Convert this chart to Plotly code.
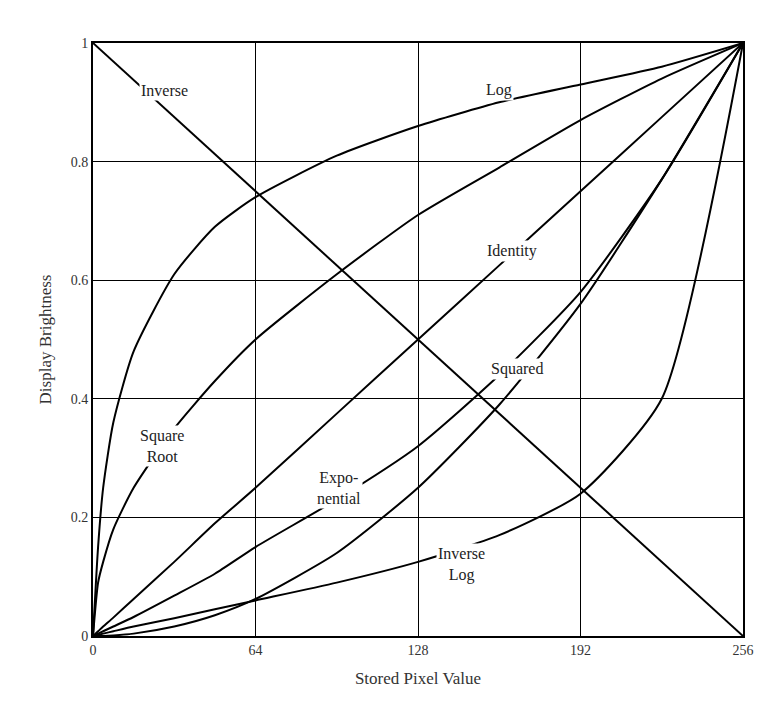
import plotly.graph_objects as go

# stored pixel values where curves were read
pixel = [0, 2, 4, 8, 16, 32, 48, 64, 96, 128, 160, 192, 224, 256]

log_curve = [0, 0.15, 0.25, 0.36, 0.48, 0.61, 0.69, 0.74, 0.81, 0.86, 0.90, 0.93, 0.96, 1.0]
sqrt_curve = [0, 0.09, 0.125, 0.18, 0.25, 0.35, 0.43, 0.50, 0.61, 0.71, 0.79, 0.87, 0.94, 1.0]
identity = [0, 0.008, 0.016, 0.031, 0.0625, 0.125, 0.19, 0.25, 0.375, 0.5, 0.625, 0.75, 0.875, 1.0]
expo = [0, 0.004, 0.008, 0.016, 0.032, 0.068, 0.105, 0.15, 0.23, 0.32, 0.44, 0.58, 0.77, 1.0]
squared = [0, 0.0001, 0.0002, 0.001, 0.004, 0.016, 0.035, 0.0625, 0.14, 0.25, 0.39, 0.56, 0.77, 1.0]
inv_log = [0, 0.002, 0.004, 0.008, 0.016, 0.03, 0.045, 0.06, 0.09, 0.125, 0.17, 0.24, 0.40, 1.0]
inverse_x = [0, 256]
inverse_y = [1, 0]

labels = [
    ("Inverse", 28, 0.92), ("Log", 160, 0.92), ("Identity", 165, 0.65),
    ("Squared", 167, 0.45), ("Square<br>Root", 27, 0.32), ("Expo-<br>nential", 97, 0.25),
    ("Inverse<br>Log", 145, 0.12),
]

font = "Liberation Serif"
fig = go.Figure()
for ys in [log_curve, sqrt_curve, identity, expo, squared, inv_log]:
    fig.add_trace(go.Scatter(x=pixel, y=ys, mode="lines",
                             line=dict(color="black", width=2, shape="spline", smoothing=0.6)))
fig.add_trace(go.Scatter(x=inverse_x, y=inverse_y, mode="lines", line=dict(color="black", width=2)))

for text, x, y in labels:
    fig.add_annotation(x=x, y=y, text=text, showarrow=False, bgcolor="white",
                       font=dict(family=font, size=16, color="#222"))

axis = dict(showline=True, mirror=True, linecolor="black", linewidth=2, showgrid=True,
            gridcolor="black", gridwidth=1, zeroline=False, ticks="",
            tickfont=dict(family=font, size=14, color="#333"))
fig.update_xaxes(axis, range=[0, 256], tickvals=[0, 64, 128, 192, 256],
                 title=dict(text="Stored Pixel Value", font=dict(family=font, size=17, color="#333")))
fig.update_yaxes(axis, range=[0, 1], tickvals=[0, 0.2, 0.4, 0.6, 0.8, 1],
                 ticktext=["0", "0.2", "0.4", "0.6", "0.8", "1"],
                 title=dict(text="Display Brightness", font=dict(family=font, size=17, color="#333")))
fig.update_layout(width=770, height=710, showlegend=False, plot_bgcolor="white", paper_bgcolor="white",
                  margin=dict(l=85, r=35, t=35, b=82))
fig.write_html("out.html")
